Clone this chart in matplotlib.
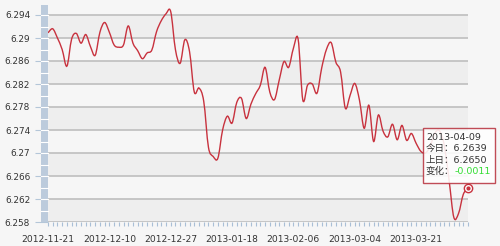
import numpy as np
import matplotlib
matplotlib.use("Agg")
import matplotlib.pyplot as plt
from matplotlib.path import Path
from matplotlib.patches import PathPatch, Rectangle
import matplotlib.transforms as mtransforms

# daily fixing values, 2012-11-21 .. 2013-04-09 (trading days)
rates = [6.2909, 6.2916, 6.2900, 6.2880, 6.2851, 6.2898, 6.2908, 6.2891, 6.2906, 6.2885,
         6.2870, 6.2910, 6.2927, 6.2910, 6.2888, 6.2884, 6.2888, 6.2921, 6.2891, 6.2878,
         6.2864, 6.2874, 6.2879, 6.2911, 6.2930, 6.2942, 6.2946, 6.2880, 6.2856, 6.2897,
         6.2876, 6.2806, 6.2813, 6.2790, 6.2710, 6.2694, 6.2691, 6.2740, 6.2764, 6.2752,
         6.2788, 6.2795, 6.2760, 6.2785, 6.2803, 6.2818, 6.2849, 6.2806, 6.2793, 6.2827,
         6.2859, 6.2849, 6.2882, 6.2898, 6.2792, 6.2818, 6.2820, 6.2804, 6.2848, 6.2880,
         6.2892, 6.2858, 6.2841, 6.2778, 6.2800, 6.2821, 6.2792, 6.2743, 6.2783, 6.2720,
         6.2766, 6.2738, 6.2728, 6.2750, 6.2723, 6.2748, 6.2722, 6.2734, 6.2717, 6.2703,
         6.2700, 6.2712, 6.2735, 6.2738, 6.2712, 6.2652, 6.2588, 6.2595, 6.2628, 6.2639]
date_labels = ['2012-11-21', '2012-12-10', '2012-12-27', '2013-01-18',
               '2013-02-06', '2013-03-04', '2013-03-21']
y_ticks = [6.258, 6.262, 6.266, 6.27, 6.274, 6.278, 6.282, 6.286, 6.29, 6.294]
tip_date = '2013-04-09'
tip_today = 6.2639
tip_prev = 6.2650

bg = '#f6f6f6'
red = '#c8323e'

fig = plt.figure(figsize=(5.0, 2.46), dpi=100, facecolor=bg)
ax = fig.add_axes([48/500, 1-222/246, 420/500, 217/246])
ax.set_facecolor(bg)
n = len(rates)
ax.set_xlim(0, n-1)
ax.set_ylim(6.258, 6.258 + 217*0.004/23)

# alternating bands + grid
for k in range(len(y_ticks)-1):
    if k % 2 == 0:
        ax.axhspan(y_ticks[k], y_ticks[k+1], color='#eeeeee', lw=0, zorder=0)
for v in y_ticks:
    ax.axhline(v, color='#c2c2c2', lw=1.3, zorder=1)

# smooth line (catmull-rom -> bezier)
x = np.arange(n, dtype=float)
y = np.array(rates)
px = np.concatenate([[x[0]], x, [x[-1]]])
py = np.concatenate([[y[0]], y, [y[-1]]])
verts = [(x[0], y[0])]
codes = [Path.MOVETO]
for i in range(1, n):
    c1 = (px[i] + (px[i+1]-px[i-1])/6, py[i] + (py[i+1]-py[i-1])/6)
    c2 = (px[i+1] - (px[i+2]-px[i])/6, py[i+1] - (py[i+2]-py[i])/6)
    verts += [c1, c2, (px[i+1], py[i+1])]
    codes += [Path.CURVE4]*3
ax.add_patch(PathPatch(Path(verts, codes), fc='none', ec=red, lw=1.0, zorder=3, clip_on=False))

# last point marker
ax.plot([n-1], [rates[-1]], 'o', ms=6, mfc='white', mec=red, mew=1.0, zorder=5, clip_on=False)
ax.plot([n-1], [rates[-1]], 'o', ms=2, color=red, zorder=6, clip_on=False)

# axes styling
for s in ax.spines.values():
    s.set_visible(False)
ax.set_yticks(y_ticks)
ax.set_yticklabels([('%.3f' % v).rstrip('0') for v in y_ticks])
ax.tick_params(axis='y', length=9.4, width=0.8, color='#b4c6d8', pad=3.4,
               labelsize=6.4, labelcolor='#333333')
ax.set_xticks(np.arange(0, n, 13))
ax.set_xticklabels(date_labels)
ax.set_xticks(np.arange(n), minor=True)
ax.tick_params(axis='x', which='both', length=3, width=0.8, color='#a9bfd6', pad=6,
               labelsize=6.6, labelcolor='#333333')

# blue bar at left
trans = mtransforms.blended_transform_factory(ax.transAxes, ax.transData)
ax.add_patch(Rectangle((-7/420, ax.get_ylim()[0]), 7/420, ax.get_ylim()[1]-ax.get_ylim()[0],
                       transform=trans, fc='#bccbdc', ec='none', zorder=4, clip_on=False))
for v in np.arange(6.260, 6.2955, 0.002):
    ax.plot([-7/420, 0], [v, v], transform=trans, color='white', lw=0.8, zorder=4.5, clip_on=False)

# tooltip
fig.add_artist(Rectangle((423/500, 1-183/246), 72/500, 55/246, transform=fig.transFigure,
                         fc='white', ec='#b83440', lw=1.0, alpha=0.88, zorder=10))
fam = ['DejaVu Sans', 'Noto Sans CJK SC']
tx = 426/500
fig.text(tx, 1-137/246, tip_date, family=fam, fontsize=6.8, color='#333333', va='center', zorder=11)
fig.text(tx, 1-148/246, '今日：%.4f' % tip_today, family=fam, fontsize=6.8, color='#333333', va='center', zorder=11)
fig.text(tx, 1-160/246, '上日：%.4f' % tip_prev, family=fam, fontsize=6.8, color='#333333', va='center', zorder=11)
t = fig.text(tx, 1-171/246, '变化：', family=fam, fontsize=6.8, color='#333333', va='center', zorder=11)
fig.canvas.draw()
bb = t.get_window_extent()
fig.text(bb.x1/500, 1-171/246, '%.4f' % (tip_today - tip_prev), family=fam, fontsize=6.8,
         color='#33dd33', va='center', zorder=11)

fig.savefig('out.png', dpi=100, facecolor=bg)
